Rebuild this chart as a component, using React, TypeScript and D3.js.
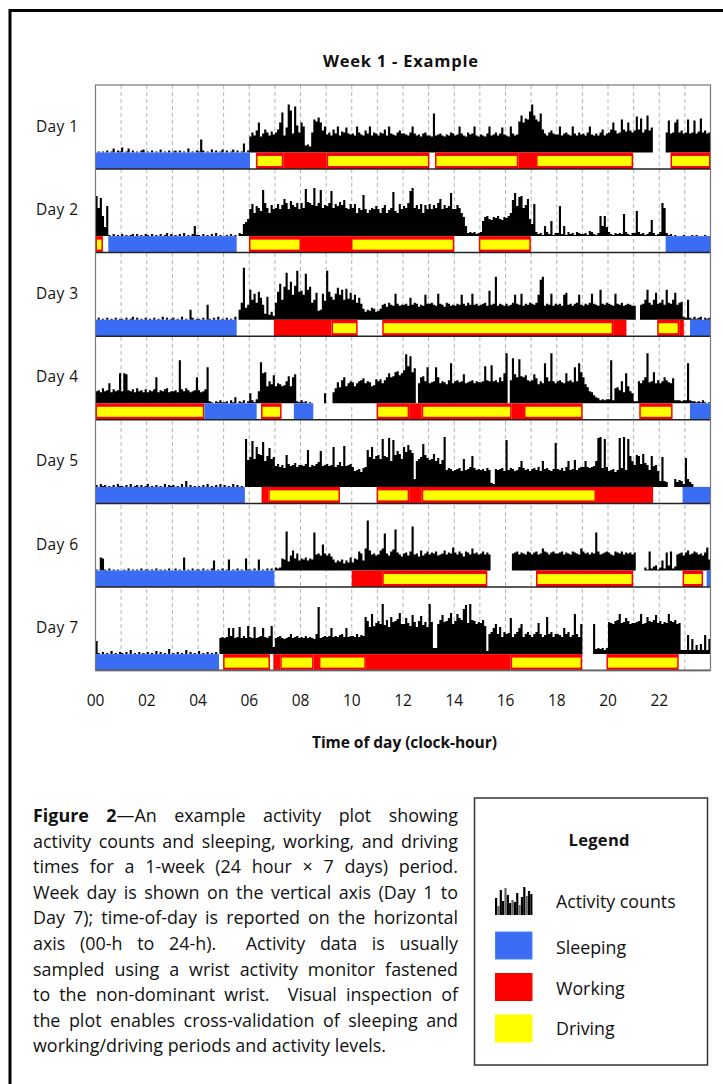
import React, { useLayoutEffect, useRef } from "react";
import * as d3 from "d3";

// ---------------- DATA ----------------
const TITLE = "Week 1 - Example";
const X_TITLE = "Time of day (clock-hour)";
const DAY_LABELS = ["Day 1", "Day 2", "Day 3", "Day 4", "Day 5", "Day 6", "Day 7"];
const TICK_HOURS = [0, 2, 4, 6, 8, 10, 12, 14, 16, 18, 20, 22];
const TICK_LABELS = ["00", "02", "04", "06", "08", "10", "12", "14", "16", "18", "20", "22"];
const GRID_HOURS = d3.range(1, 24);

// activity counts, 5-minute epochs, one 12-character group per clock hour.
// each character is a count level: 0-9, a-z (10-35), A-Z (36-61)
const LEVEL_CODE = "0123456789abcdefghijklmnopqrstuvwxyzABCDEFGHIJKLMNOPQRSTUVWXYZ";

const DAY1_ACTIVITY = [
  "010102014021", "501402010230", "102010301020", "120201040102", "1d2010302013", "020130201902",
  "gkhmugjnkhli", "knuEhpMGjKrk", "uq786kxvzumq", "ikhnjqhlkpji", "jhqkihmjqhkj", "hkjnhqjihkmj",
  "jihkqjhigjkh", "hgDhijhgihkj", "hiqjhgkijqhg", "ihgjqhikhjpi", "hgqjhivBuyxF", "MBxvDnjhkmji",
  "iqhjkihqjhki", "jhkqihjhknhj", "knumjkxnlumk", "mAnyknBmp000", "000kwjkuxkmj", "kxjkwjlykmjk",
];
const DAY2_ACTIVITY = [
  "EsCk9u102010", "201012020102", "102010201302", "0102030102a1", "102010203010", "010201032ceh",
  "rwnuspKxsnvr", "swrvBxrzvtxr", "xsLyxvMuxKsv", "uxJswuyvAsrw", "swnsqFrnqsru", "rnsvnqsIpnwr",
  "usxJMsvrwnvr", "wrvsxBrvsuHr", "rvsnja343423", "4fjkhgjikhgj", "iknAHuDEsvBh", "cw4231a42f13",
  "3u2a14231432", "23154213kak9", "4213232m4213", "3p423124g312", "4xs312010001", "000101000100",
];
const DAY3_ACTIVITY = [
  "020102010201", "102013020102", "010201030201", "20103010a201", "1020f1020301", "0201030ahQcf",
  "ukqhsmf6n584", "hsAkxLuCpyNs", "tpKuxhkr9aqj", "Nsnkqwpukvlr", "kphmgb8a9cb8", "9bfgdhfeqgef",
  "fgemfhgdfepg", "ghfeqgfdhgef", "egfpgehfqfge", "fghetfgHegfe", "gefhpgfqegfh", "gfhpEHegfqeg",
  "fgeprfgeghpf", "egfhqgfeugfh", "gfeqgfhefgfe", "e00fgkuhfkrg", "hkfuhgkrfhi3", "2k2131230212",
];
const DAY4_ACTIVITY = [
  "cdbfcdkbecdu", "cutdcebfcdbe", "bdceqbdcefbc", "cdbHecfdbcdq", "dbceA2102131", "120316021302",
  "a314cFuvhmjs", "hkjhimrhqt21", "31201000000a", "000bflgnqhkm", "lhkmnpkmlhio", "moknquqrvwsu",
  "xNBLvz0kqrmA", "klmAqkmljnEk", "mnlmtklmnkml", "lmBnmCmnlqmu", "O0nJtqIrqsnm", "ntpjmkEqmOmk",
  "mnlkumnlAmEv", "qjgcb8653434", "4H3fgdmbuhca", "22mknqOlmvkn", "kmqnlkp33323", "3E3221213101",
];
const DAY5_ACTIVITY = [
  "203120102031", "102030120201", "301020103021", "201030602010", "102030102030", "2010302010Mr",
  "uKsExwJqvDsu", "lnkmjwnlmokm", "mlnBkmlnpAlm", "nlmEkmplFlmn", "kghifjkBuEsv", "wsMvuNqLwAxs",
  "EzGBy8qsuHwt", "rsxqtnrOhjig", "hijgshikvjhi", "higjh43ihijg", "Lhjighkqjhig", "ijhkgqijhgiI",
  "ihjgkqhirhjk", "kqkjklqNOjMk", "ghifhNjOhMvq", "mwvnxomhvlmg", "6u6500085763", "t85300000000",
];
const DAY6_ACTIVITY = [
  "10dc10201010", "010201010201", "101020101020", "02010d010201", "1020102a0102", "01b0102010c1",
  "1020b0102020", "323cbD9fkcha", "cbdacbCghfqh", "fheb8a9b7a8d", "8cbjhamOkghf", "gkmBhfjlFige",
  "hifjIghekfhj", "gihjfghkgihn", "igjhejigmhig", "hjgig0000000", "000hijgihgji", "gijghmjigijh",
  "hijgihgjihgm", "jhigihCjghij", "igfjihjgihig", "i000031j2451", "3a2i5j24ghif", "ikghjighfinb",
];
const DAY7_ACTIVITY = [
  "d10201030102", "102040102010", "201030201050", "102010402010", "3010201020gh", "ghqiqghrgigs",
  "hgrghiqhgis7", "ghigfghkghig", "hgighgfkLghi", "hiqhihjkhqhi", "ihkhjiBxrEsv", "xuOtyrBwxzFu",
  "uAvsDwrxCtwr", "Ow66uyDwxAFu", "xEAyJNvOyxuw", "vys3kmqukrhm", "klAhkmquhkmj", "hkmvkhjBkmhk",
  "kjhqkmhjEkhu", "00000u565646", "wvuxyEvwAxuv", "vwxEuvBxwyDv", "xuwvExwyuv44", "4j4f494a4j4f",
];

// [start hour, end hour, state]  S = sleeping, W = working, D = driving
const DAY1_STATES: [number, number, string][] = [
  [0, 6.03, "S"], [6.26, 7.33, "D"], [7.33, 9.02, "W"], [9.02, 13.03, "D"], [13.25, 16.5, "D"],
  [16.5, 17.19, "W"], [17.19, 20.98, "D"], [22.44, 24, "D"],
];
const DAY2_STATES: [number, number, string][] = [
  [0, 0.29, "D"], [0.5, 5.51, "S"], [5.99, 8.02, "D"], [8.02, 9.97, "W"], [9.97, 14.0, "D"],
  [14.96, 16.99, "D"], [22.25, 24, "S"],
];
const DAY3_STATES: [number, number, string][] = [
  [0, 5.51, "S"], [6.96, 9.21, "W"], [9.21, 10.23, "D"], [11.19, 20.2, "D"], [20.2, 20.72, "W"],
  [21.92, 22.78, "D"], [22.78, 22.96, "W"], [23.2, 24, "S"],
];
const DAY4_STATES: [number, number, string][] = [
  [0, 4.25, "D"], [4.25, 6.29, "S"], [6.46, 7.26, "D"], [7.74, 8.5, "S"], [10.97, 12.24, "D"],
  [12.24, 12.73, "W"], [12.73, 16.24, "D"], [16.24, 16.72, "W"], [16.72, 19.01, "D"],
  [21.22, 22.52, "D"], [23.2, 24, "S"],
];
const DAY5_STATES: [number, number, string][] = [
  [0, 5.83, "S"], [6.48, 6.74, "W"], [6.74, 9.54, "D"], [10.97, 12.24, "D"], [12.24, 12.73, "W"],
  [12.73, 19.53, "D"], [19.53, 21.76, "W"], [22.91, 24, "S"],
];
const DAY6_STATES: [number, number, string][] = [
  [0, 6.98, "S"], [10.0, 11.19, "W"], [11.19, 15.29, "D"], [17.19, 20.98, "D"], [22.91, 23.71, "D"],
  [23.85, 24, "S"],
];
const DAY7_STATES: [number, number, string][] = [
  [0, 4.82, "S"], [4.98, 6.81, "D"], [6.94, 7.21, "W"], [7.21, 8.51, "D"], [8.51, 8.72, "W"],
  [8.72, 10.55, "D"], [10.55, 16.2, "W"], [16.2, 18.99, "D"], [19.94, 22.76, "D"],
];

const ACTIVITY = [DAY1_ACTIVITY, DAY2_ACTIVITY, DAY3_ACTIVITY, DAY4_ACTIVITY, DAY5_ACTIVITY, DAY6_ACTIVITY, DAY7_ACTIVITY];
const STATES = [DAY1_STATES, DAY2_STATES, DAY3_STATES, DAY4_STATES, DAY5_STATES, DAY6_STATES, DAY7_STATES];

const LEGEND_ITEMS = ["Activity counts", "Sleeping", "Working", "Driving"];
const LEGEND_SPIKES = [17, 9, 25, 14, 27, 20, 12, 15, 13, 22, 10, 18, 28, 19, 24, 21];

const CAPTION_LINES = [
  "\u2014An example activity plot showing",
  "activity counts and sleeping, working, and driving",
  "times for a 1-week (24 hour \u00D7 7 days) period.",
  "Week day is shown on the vertical axis (Day 1 to",
  "Day 7); time-of-day is reported on the horizontal",
  "axis (00-h to 24-h).  Activity data is usually",
  "sampled using a wrist activity monitor fastened",
  "to the non-dominant wrist.  Visual inspection of",
  "the plot enables cross-validation of sleeping and",
  "working/driving periods and activity levels.",
];
const CAPTION_LEAD = "Figure 2";

// ---------------- LAYOUT ----------------
const W = 723;
const H = 1084;
const FONT = "'Open Sans', Lato, sans-serif";
const PLOT_L = 95.5;
const PLOT_R = 710.5;
const ROW_TOP = 85;
const ROW_H = 83.6;
const BAR_OFF = 67.5;
const BAR_H = 16.5;
const COLORS: Record<string, string> = { S: "#3B6DF4", W: "#FF0000", D: "#FFFF00" };

const decode = (groups: string[]) =>
  groups.join("").split("").map((c) => LEVEL_CODE.indexOf(c));

const x = d3.scaleLinear().domain([0, 24]).range([PLOT_L, PLOT_R]);
const hScale = d3.scaleLinear().domain([0, 60]).range([0, 60]);
const rowY = d3.scaleLinear().domain([0, 1]).range([ROW_TOP, ROW_TOP + ROW_H]);

const CAP_X = 33;
const CAP_W = 425;
const CAP_Y0 = 822;
const CAP_DY = 25.6;
const CAP_FS = 17.9;

const LEGEND_TEXT_Y = [907.5, 953.5, 994.5, 1034.5];

export default function App() {
  const capRef = useRef<SVGGElement>(null);

  useLayoutEffect(() => {
    const justify = () => {
      const g = capRef.current;
      if (!g) return;
      g.querySelectorAll("text[data-justify='1']").forEach((node) => {
        const t = node as SVGTextElement;
        t.style.wordSpacing = "0px";
        const w = t.getComputedTextLength();
        const n = ((t.textContent || "").match(/ /g) || []).length;
        if (n > 0) t.style.wordSpacing = `${(CAP_W - w) / n}px`;
      });
    };
    justify();
    if ((document as any).fonts) (document as any).fonts.ready.then(justify);
  }, []);

  const plotBottom = rowY(7);

  return (
    <svg width={W} height={H} viewBox={`0 0 ${W} ${H}`} style={{ display: "block", position: "absolute", left: 0, top: 0 }}>
      <rect x={0} y={0} width={W} height={H} fill="#fff" />
      {/* outer frame */}
      <rect x={10} y={10.5} width={800} height={1200} fill="none" stroke="#000" strokeWidth={3} />

      <text x={400.5} y={67} textAnchor="middle" fontFamily={FONT} fontWeight={700} fontSize={16.5}
        textLength={155} lengthAdjust="spacing" fill="#111">
        {TITLE}
      </text>

      {/* grid */}
      {GRID_HOURS.map((hr) => (
        <line key={hr} x1={x(hr)} x2={x(hr)} y1={ROW_TOP} y2={plotBottom} stroke="#b4b4b4" strokeWidth={1} strokeDasharray="4 3" />
      ))}

      {ACTIVITY.map((groups, d) => {
        const vals = decode(groups);
        const base = rowY(d) + BAR_OFF;
        const pts = [...vals, vals[vals.length - 1]];
        const area = d3
          .area<number>()
          .x((_, i) => x(i / 12))
          .y0(base)
          .y1((v) => base - hScale(v))
          .curve(d3.curveStepAfter);
        return <path key={"a" + d} d={area(pts) || ""} fill="#000" />;
      })}

      {STATES.map((segs, d) => {
        const top = rowY(d) + BAR_OFF;
        return (
          <g key={"s" + d}>
            {segs.map(([a, b, s], i) =>
              s === "D" ? (
                <g key={i}>
                  <rect x={x(a)} y={top} width={x(b) - x(a)} height={BAR_H} fill={COLORS.W} />
                  <rect x={x(a) + 1.5} y={top + 3.5} width={Math.max(0, x(b) - x(a) - 3)} height={BAR_H - 6.5} fill={COLORS.D} />
                </g>
              ) : (
                <rect key={i} x={x(a)} y={top} width={x(b) - x(a)} height={BAR_H} fill={COLORS[s]} />
              )
            )}
            <line x1={PLOT_L} x2={PLOT_R} y1={top + BAR_H} y2={top + BAR_H} stroke="#222" strokeWidth={1.5} />
          </g>
        );
      })}

      <rect x={PLOT_L} y={ROW_TOP} width={PLOT_R - PLOT_L} height={plotBottom - ROW_TOP} fill="none" stroke="#777" strokeWidth={1.2} />

      {DAY_LABELS.map((lab, d) => (
        <text key={lab} x={36} y={rowY(d) + 46.5} fontFamily={FONT} fontSize={15.5}
          textLength={42} lengthAdjust="spacing" fill="#111">
          {lab}
        </text>
      ))}

      {TICK_HOURS.map((hr, i) => (
        <text key={hr} x={x(hr)} y={705.5} textAnchor="middle" fontFamily={FONT} fontSize={15.5} fill="#111">
          {TICK_LABELS[i]}
        </text>
      ))}

      <text x={404.5} y={747.5} textAnchor="middle" fontFamily={FONT} fontWeight={700} fontSize={15.5}
        textLength={185} lengthAdjust="spacing" fill="#111">
        {X_TITLE}
      </text>

      {/* caption */}
      <g ref={capRef}>
        {CAPTION_LINES.map((line, i) => {
          const last = i === CAPTION_LINES.length - 1;
          return (
            <text
              key={i}
              data-justify={last ? "0" : "1"}
              x={CAP_X}
              y={CAP_Y0 + i * CAP_DY}
              fontFamily={FONT}
              fontSize={CAP_FS}
              fill="#111"
              style={{ whiteSpace: "pre" }}
            >
              {i === 0 ? (
                <>
                  <tspan fontWeight={700}>{CAPTION_LEAD}</tspan>
                  {line}
                </>
              ) : (
                line
              )}
            </text>
          );
        })}
      </g>

      {/* legend */}
      <rect x={474.5} y={798} width={233} height={267} fill="#fff" stroke="#333" strokeWidth={1.5} />
      <text x={599} y={845.5} textAnchor="middle" fontFamily={FONT} fontWeight={700} fontSize={16.5}
        textLength={61} lengthAdjust="spacing" fill="#111">
        Legend
      </text>
      {LEGEND_SPIKES.map((v, i) => (
        <rect key={i} x={495 + i * 2.35} y={915 - v} width={2.2} height={v} fill={i % 3 === 1 ? "#666" : "#000"} />
      ))}
      {["S", "W", "D"].map((s, i) => (
        <rect key={s} x={495.5} y={932 + i * 41.5} width={36.5} height={27} fill={COLORS[s]}
          stroke={d3.color(COLORS[s])!.brighter(0.5).toString()} strokeWidth={1} />
      ))}
      {LEGEND_ITEMS.map((lab, i) => (
        <text key={lab} x={556} y={LEGEND_TEXT_Y[i]} fontFamily={FONT} fontSize={17.8} fill="#111">
          {lab}
        </text>
      ))}
    </svg>
  );
}
